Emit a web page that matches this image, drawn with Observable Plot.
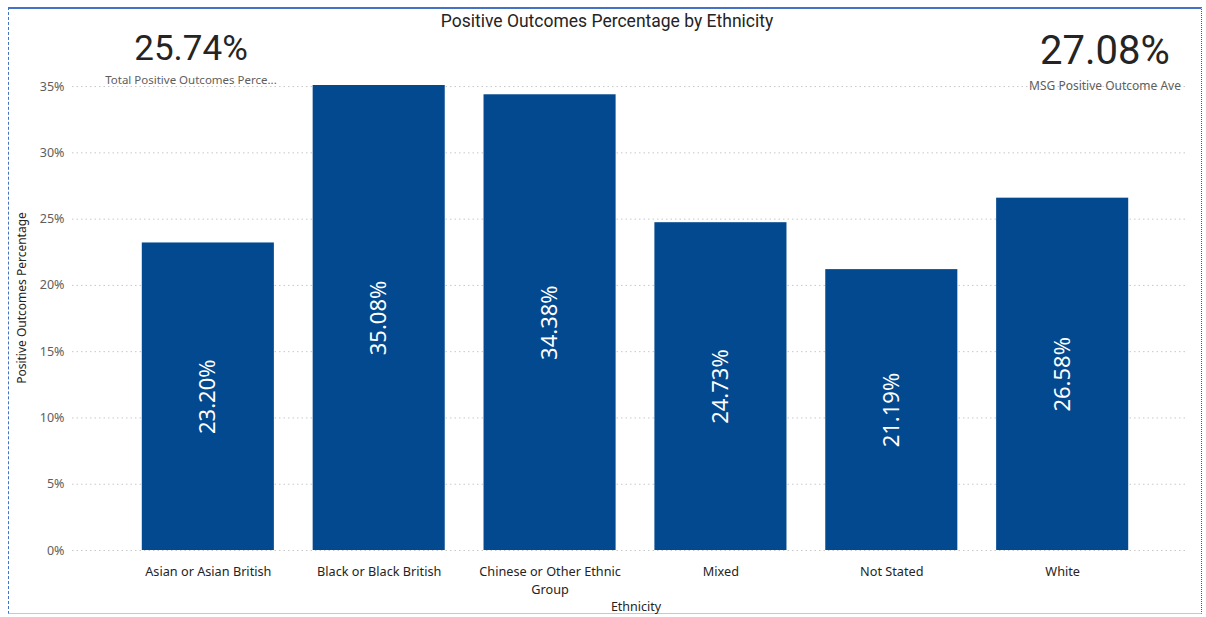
<!DOCTYPE html>
<html>
<head>
<meta charset="utf-8">
<script src="https://cdn.jsdelivr.net/npm/d3@7"></script>
<script src="https://cdn.jsdelivr.net/npm/@observablehq/plot@0.6"></script>
<style>
  html, body { margin: 0; padding: 0; background: #fff; }
  #wrap { position: relative; width: 1206px; height: 617px; overflow: hidden; background: #fff; }
  #frame { position: absolute; left: 8px; top: 7px; width: 1194px; height: 607px;
           border-top: 2px solid #4472C4; border-left: 1px dashed #4472C4;
           border-right: 1px dotted #555; border-bottom: 1px solid #c8c8c8; box-sizing: border-box; }
  #chart { position: absolute; left: 0; top: 0; }
  .t { position: absolute; white-space: nowrap; color: #252423; }
  #title { left: 0; width: 1214px; top: 11px; text-align: center; font: 17.5px Roboto, "DejaVu Sans Condensed", sans-serif; }
  .kpi { font-family: Roboto, "DejaVu Sans Condensed", sans-serif; text-align: center; }
  .kpil { font-family: "Noto Sans", "Open Sans", sans-serif; color: #605E5C; text-align: center; }
</style>
</head>
<body>
<div id="wrap">
  <div id="frame"></div>
  <div id="chart"></div>
  <div class="t" id="title"></div>
  <div class="t kpi" id="kpi1" style="left:91px;width:200px;top:28px;font-size:35px;"></div>
  <div class="t kpil" id="kpi1l" style="left:91px;width:200px;top:72px;font-size:11.5px;"></div>
  <div class="t kpi" id="kpi2" style="left:1005px;width:200px;top:27px;font-size:40px;"></div>
  <div class="t kpil" id="kpi2l" style="left:1005px;width:200px;top:77px;font-size:12px;"></div>
</div>
<script>
const titleText = "Positive Outcomes Percentage by Ethnicity";
const categories = ["Asian or Asian British", "Black or Black British", "Chinese or Other Ethnic Group", "Mixed", "Not Stated", "White"];
const values = [23.20, 35.08, 34.38, 24.73, 21.19, 26.58];
const yTicks = [0, 5, 10, 15, 20, 25, 30, 35];
const kpiLabels = ["Total Positive Outcomes Perce...", "MSG Positive Outcome Ave"];
const kpiValues = ["25.74%", "27.08%"];
const yLabel = "Positive Outcomes Percentage";
const xLabel = "Ethnicity";

document.getElementById("title").textContent = titleText;
document.getElementById("kpi1").textContent = kpiValues[0];
document.getElementById("kpi1l").textContent = kpiLabels[0];
document.getElementById("kpi2").textContent = kpiValues[1];
document.getElementById("kpi2l").textContent = kpiLabels[1];

const data = categories.map((c, i) => ({cat: c, v: values[i]}));
const wrapLabel = {"Chinese or Other Ethnic Group": "Chinese or Other Ethnic\nGroup"};
const W = 1206, H = 617;
const font = "'Segoe UI', 'Noto Sans', 'Open Sans', sans-serif";

const chart = Plot.plot({
  width: W, height: H,
  marginLeft: 72, marginRight: 21, marginTop: 85, marginBottom: 67,
  style: {fontFamily: font, fontSize: "12.5px", color: "#605E5C", background: "transparent"},
  x: {domain: categories, range: [103, 1167], padding: 0.227, round: false},
  y: {domain: [0, 35.08]},
  marks: [
    Plot.ruleY(yTicks, {stroke: "#c8c8c8", strokeDasharray: "1.5,3", strokeWidth: 1}),
    Plot.barY(data, {x: "cat", y: "v", fill: "#03498F"}),
    Plot.text(data, {x: "cat", y: d => d.v / 2, text: d => d.v.toFixed(2) + "%", rotate: -90,
      fill: "white", fontSize: 22, fontFamily: font}),
    Plot.axisY({ticks: yTicks, tickSize: 0, tickPadding: 8, tickFormat: d => d + "%", label: null,
      fontSize: 12.5, fill: "#605E5C"}),
    Plot.axisX({tickSize: 0, tickPadding: 12, label: null, lineHeight: 1.45,
      tickFormat: d => wrapLabel[d] || d, fontSize: 12.7, fill: "#252423"}),
    Plot.text([yLabel], {frameAnchor: "left", textAnchor: "middle", dx: -50, dy: -20, rotate: -90, text: d => d,
      fontSize: 12, fill: "#252423"}),
    Plot.text([xLabel], {frameAnchor: "bottom", dy: 60, dx: 7, text: d => d, fontSize: 12.5, fill: "#252423"})
  ]
});
document.getElementById("chart").appendChild(chart);
</script>
</body>
</html>
